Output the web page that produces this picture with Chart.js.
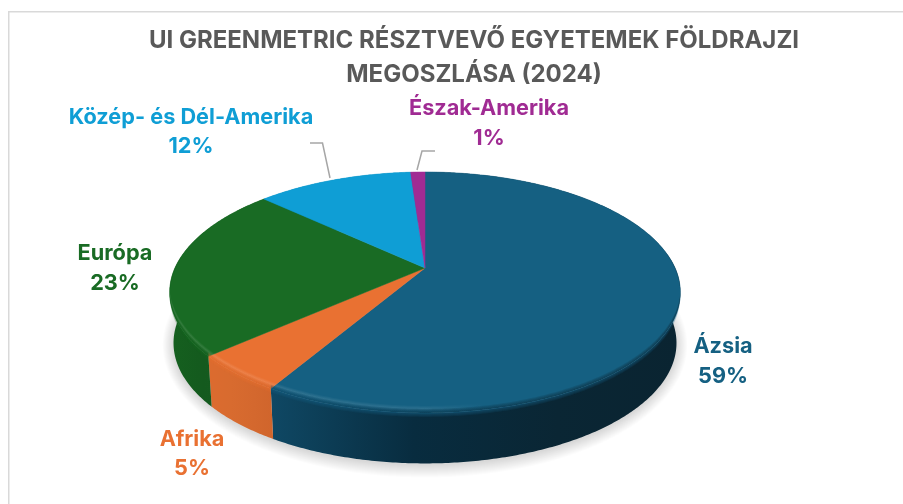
<!DOCTYPE html>
<html><head><meta charset="utf-8">
<style>html,body{margin:0;padding:0;background:#fff}#w{position:absolute;left:0;top:0;width:903px;height:504px}</style>
<script src="https://cdn.jsdelivr.net/npm/chart.js@4"></script></head>
<body><div id="w"><canvas id="c" width="903" height="504"></canvas></div>
<script>
const titleLines = ["UI GREENMETRIC RÉSZTVEVŐ EGYETEMEK FÖLDRAJZI", "MEGOSZLÁSA (2024)"];
const categories = ["Ázsia", "Afrika", "Európa", "Közép- és Dél-Amerika", "Észak-Amerika"];
const values = [58.5, 5.0, 23.4, 12.0, 1.1];
const colors = ["#156082", "#E97132", "#196B24", "#0F9ED5", "#A02B93"];
const wallStops = [
  ["#0f4864", "#082c3f", "#0a2634", "#0a2431"],
  ["#dc6b2f", "#d86b2f", "#d4682e", "#d0652c"],
  ["#15601f", "#145a1e", "#165c20", "#17601f"],
  ["#0c7fab", "#0c7fab", "#0c7fab", "#0c7fab"],
  ["#802376", "#802376", "#802376", "#802376"]
];
const labelPos = [[723, 346, 376], [192, 439, 468], [115, 253, 283], [191, 117, 146], [489, 108, 138]];
const leaders = [null, null, null, [[310, 143], [322.5, 143], [330, 178]], [[435, 151], [422, 151], [417, 170]]];

const HX = 425, HY = 268, A = 250, B = 115.5, K = 0.203, DEPTH = 50.5, SHR = 0.985;
const RING_Y = 342;
const FONT = 'Inter, "Noto Sans", sans-serif';
function top3d(a) {
  const w = 1 - K * Math.sin(a);
  return [HX + A * Math.cos(a) / w, HY + B * Math.sin(a) / w];
}
function bottom3d(a) {
  const p = top3d(a);
  return [HX + (p[0] - HX) * SHR, p[1] + DEPTH];
}
function samples(s, e) {
  const n = Math.max(2, Math.ceil((e - s) / 0.01)), r = [];
  for (let i = 0; i <= n; i++) r.push(s + (e - s) * i / n);
  return r;
}
function fade(a) { return Math.max(0, Math.min(1, (Math.sin(a) + 0.15) / 0.5)); }

const pie3d = {
  id: 'pie3d',
  beforeDraw(chart) {
    const c = chart.ctx;
    c.save();
    c.fillStyle = '#fff';
    c.fillRect(0, 0, 903, 504);
    c.strokeStyle = '#d9d9d9';
    c.lineWidth = 1.5;
    c.beginPath();
    c.moveTo(8.75, 504); c.lineTo(8.75, 11.75); c.lineTo(903, 11.75);
    c.stroke();
    c.restore();
  },
  beforeDatasetsDraw(chart) {
    const c = chart.ctx, arcs = chart.getDatasetMeta(0).data;
    c.save();
    const ring = samples(0, Math.PI * 2).map(a => bottom3d(a));
    for (let r = 12; r >= 0; r--) {
      c.fillStyle = 'rgba(0,0,0,0.012)';
      c.beginPath();
      ring.forEach((p, i) => {
        const x = HX + (p[0] - HX) * (1 + 0.9 * r / 250), y = RING_Y + (p[1] - RING_Y) * (1 + r / 120) + 2;
        i ? c.lineTo(x, y) : c.moveTo(x, y);
      });
      c.closePath(); c.fill();
    }
    const grads = arcs.map((arc, i) => {
      const pts = samples(arc.startAngle, arc.endAngle);
      const t = pts.map(a => top3d(a)), b = pts.map(a => bottom3d(a));
      const xs = t.concat(b).map(p => p[0]);
      const g = c.createLinearGradient(Math.min(...xs), 0, Math.max(...xs), 0);
      wallStops[i].forEach((col, j) => g.addColorStop(j === 0 ? 0 : j === 1 ? 0.35 : j === 2 ? 0.7 : 1, col));
      c.fillStyle = g;
      c.beginPath();
      t.forEach((p, j) => j ? c.lineTo(p[0], p[1]) : c.moveTo(p[0], p[1]));
      b.reverse().forEach(p => c.lineTo(p[0], p[1]));
      c.closePath(); c.fill();
      return g;
    });
    arcs.forEach((arc, i) => {
      c.fillStyle = colors[i]; c.strokeStyle = colors[i]; c.lineWidth = 0.5;
      c.beginPath(); c.moveTo(HX, HY);
      samples(arc.startAngle, arc.endAngle).forEach(a => { const p = top3d(a); c.lineTo(p[0], p[1]); });
      c.closePath(); c.fill(); c.stroke();
    });
    const glow = c.createLinearGradient(170, 0, 680, 0);
    glow.addColorStop(0, 'rgba(255,255,255,0.045)');
    glow.addColorStop(0.5, 'rgba(255,255,255,0.03)');
    glow.addColorStop(0.62, 'rgba(255,255,255,0)');
    glow.addColorStop(1, 'rgba(255,255,255,0)');
    arcs.forEach((arc, i) => {
      const pts = samples(arc.startAngle, arc.endAngle);
      const band = (o0, o1, style, alpha) => {
        c.globalAlpha = alpha;
        c.fillStyle = style;
        c.beginPath();
        pts.forEach((a, j) => { const p = top3d(a), f = fade(a); j ? c.lineTo(p[0], p[1] + o0 * f) : c.moveTo(p[0], p[1] + o0 * f); });
        pts.slice().reverse().forEach(a => { const p = top3d(a), f = fade(a); c.lineTo(p[0], p[1] + o1 * f); });
        c.closePath(); c.fill();
      };
      for (let o = 0; o < 3; o++) band(-7 + o, -2 - o, glow, 1);
      for (let o = -4; o < 0; o++) band(o, 0, grads[i], 0.17);
      for (let o = 4; o > 0; o--) band(0, o, colors[i], 0.17);
    });
    c.globalAlpha = 1;
    c.strokeStyle = '#a6a6a6'; c.lineWidth = 1.5;
    leaders.forEach(l => {
      if (!l) return;
      c.beginPath();
      l.forEach((p, j) => j ? c.lineTo(p[0], p[1]) : c.moveTo(p[0], p[1]));
      c.stroke();
    });
    c.textAlign = 'center'; c.textBaseline = 'middle';
    c.font = '700 21.7px ' + FONT;
    categories.forEach((name, i) => {
      c.fillStyle = colors[i];
      c.fillText(name, labelPos[i][0], labelPos[i][1]);
      c.fillText(Math.round(values[i]) + '%', labelPos[i][0], labelPos[i][2]);
    });
    c.restore();
    return false;
  }
};

new Chart(document.getElementById('c'), {
  type: 'pie',
  data: { labels: categories, datasets: [{ data: values, backgroundColor: colors, borderWidth: 0 }] },
  options: {
    responsive: false,
    animation: false,
    layout: { padding: { left: 45, top: 24, right: 0, bottom: 0 } },
    plugins: {
      legend: { display: false },
      tooltip: { enabled: false },
      title: {
        display: true, text: titleLines, color: '#595959',
        font: { family: FONT, size: 24, weight: '700', lineHeight: 1.4 },
        padding: 0
      }
    }
  },
  plugins: [pie3d]
});
</script></body></html>
